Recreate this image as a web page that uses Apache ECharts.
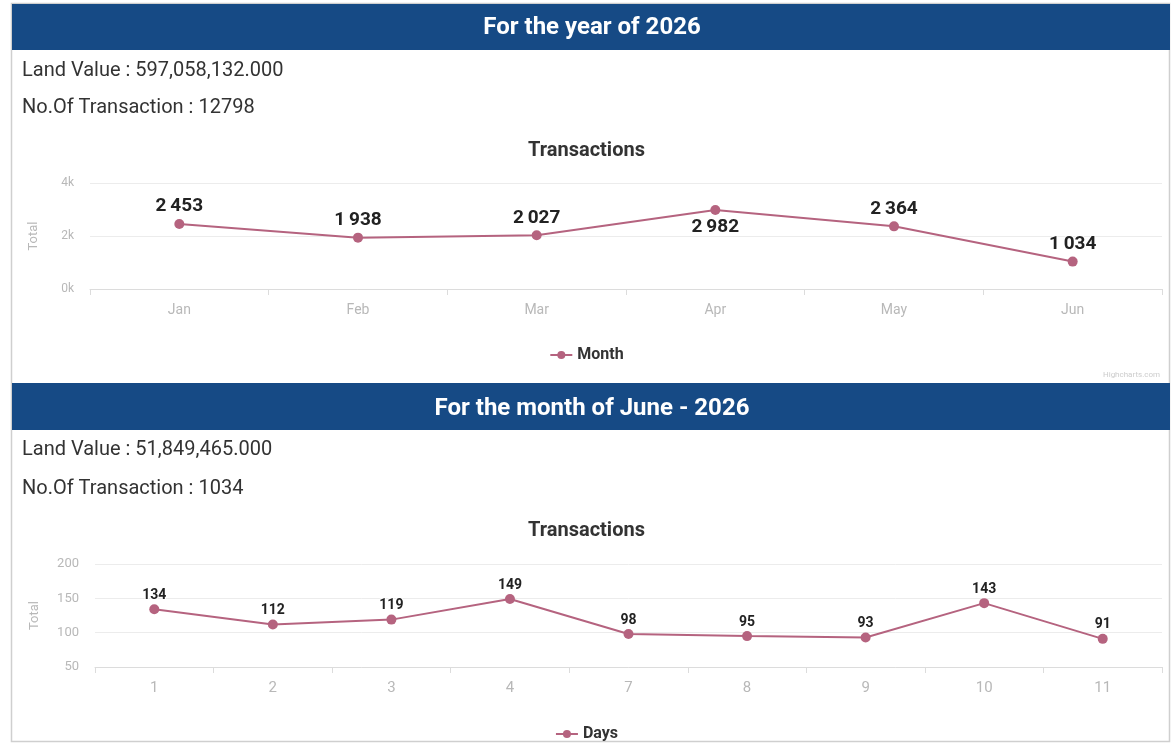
<!DOCTYPE html>
<html>
<head>
<meta charset="utf-8">
<script src="https://cdn.jsdelivr.net/npm/echarts@6/dist/echarts.min.js"></script>
<style>
html,body{margin:0;padding:0;background:#fff;}
#c{width:1173px;height:747px;}
</style>
</head>
<body>
<div id="c"></div>
<script>
// ---- data ----
const yearTitle = 'For the year of 2026';
const yearLandValue = 'Land Value : 597,058,132.000';
const yearTransactions = 'No.Of Transaction : 12798';
const months = ['Jan', 'Feb', 'Mar', 'Apr', 'May', 'Jun'];
const monthValues = [2453, 1938, 2027, 2982, 2364, 1034];
const monthLabelBelow = [false, false, false, true, false, false];
const monthTicks = [0, 2000, 4000];

const monthTitle = 'For the month of June - 2026';
const monthLandValue = 'Land Value : 51,849,465.000';
const monthTransactions = 'No.Of Transaction : 1034';
const days = ['1', '2', '3', '4', '7', '8', '9', '10', '11'];
const dayValues = [134, 112, 119, 149, 98, 95, 93, 143, 91];
const dayTicks = [50, 100, 150, 200];

const chartTitle = 'Transactions';
const yName = 'Total';
const series1Name = 'Month';
const series2Name = 'Days';

// ---- style ----
const FONT = 'Roboto, "Noto Sans", sans-serif';
const BLUE = '#164a85';
const LINE = '#b5637f';
const AXIS_TXT = '#b8b8b8';
const GRID_LINE = '#ececec';

function fmtSpace(v){
  return String(v).replace(/\B(?=(\d{3})+(?!\d))/g, '\u2009');
}

const chart = echarts.init(document.getElementById('c'), null, {renderer:'canvas'});

function xAxisCfg(data, gridIndex, fs){
  return {
    type:'category', data:data, gridIndex:gridIndex, boundaryGap:true,
    axisLine:{lineStyle:{color:'#dcdcdc', width:1}},
    axisTick:{show:true, lineStyle:{color:'#dcdcdc'}, length:6, alignWithLabel:false},
    axisLabel:{color:AXIS_TXT, fontSize:fs, fontFamily:FONT, margin:14}
  };
}
function yAxisCfg(gridIndex, min, max, interval, fmt, nameGap, fs){
  return {
    type:'value', gridIndex:gridIndex, min:min, max:max, interval:interval,
    name:yName, nameLocation:'middle', nameGap:nameGap, nameRotate:90,
    nameTextStyle:{color:AXIS_TXT, fontSize:13, fontFamily:FONT},
    axisLine:{show:false}, axisTick:{show:false},
    axisLabel:{color:AXIS_TXT, fontSize:fs, fontFamily:FONT, margin:16, formatter:fmt},
    splitLine:{lineStyle:{color:GRID_LINE, width:1}}
  };
}

const option = {
  animation:false,
  backgroundColor:'#ffffff',
  textStyle:{fontFamily:FONT},
  graphic:[
    {type:'rect', shape:{x:11.5, y:3.5, width:1158, height:738}, style:{fill:'none', stroke:'#cfcfcf', lineWidth:1.5}, z:0},
    {type:'rect', shape:{x:12, y:4, width:1158, height:46}, style:{fill:BLUE}, z:1},
    {type:'text', x:592, y:28, style:{text:yearTitle, fill:'#fff', font:'bold 24px ' + FONT, textAlign:'center', textVerticalAlign:'middle'}, z:2},
    {type:'text', x:22, y:71, style:{text:yearLandValue, fill:'#333', font:'20px ' + FONT, textVerticalAlign:'middle'}, z:2},
    {type:'text', x:22, y:108, style:{text:yearTransactions, fill:'#333', font:'20px ' + FONT, textVerticalAlign:'middle'}, z:2},
    {type:'text', x:1160, y:375, style:{text:'Highcharts.com', fill:'#cccccc', font:'8px ' + FONT, textAlign:'right', textVerticalAlign:'middle'}, z:2},
    {type:'rect', shape:{x:12, y:383, width:1158, height:47}, style:{fill:BLUE}, z:1},
    {type:'text', x:592, y:409, style:{text:monthTitle, fill:'#fff', font:'bold 24px ' + FONT, textAlign:'center', textVerticalAlign:'middle'}, z:2},
    {type:'text', x:22, y:450, style:{text:monthLandValue, fill:'#333', font:'20px ' + FONT, textVerticalAlign:'middle'}, z:2},
    {type:'text', x:22, y:489, style:{text:monthTransactions, fill:'#333', font:'20px ' + FONT, textVerticalAlign:'middle'}, z:2}
  ],
  title:[
    {text:chartTitle, left:'center', top:136, textStyle:{color:'#333', fontSize:20, fontWeight:'bold', fontFamily:FONT}},
    {text:chartTitle, left:'center', top:516, textStyle:{color:'#333', fontSize:20, fontWeight:'bold', fontFamily:FONT}}
  ],
  legend:[
    {data:[series1Name], left:'center', top:342, itemWidth:22, itemHeight:10, textStyle:{color:'#333', fontSize:16, fontWeight:'bold', fontFamily:FONT}},
    {data:[series2Name], left:'center', top:721, itemWidth:22, itemHeight:10, textStyle:{color:'#333', fontSize:16, fontWeight:'bold', fontFamily:FONT}}
  ],
  grid:[
    {left:90, right:11, top:183, height:106},
    {left:95, right:11, top:564, height:103}
  ],
  xAxis:[xAxisCfg(months,0,14), xAxisCfg(days,1,15)],
  yAxis:[
    yAxisCfg(0, monthTicks[0], monthTicks[monthTicks.length-1], monthTicks[1]-monthTicks[0], function(v){return (v/1000)+'k';}, 50, 12),
    yAxisCfg(1, dayTicks[0], dayTicks[dayTicks.length-1], dayTicks[1]-dayTicks[0], '{value}', 54, 13)
  ],
  series:[
    {
      name:series1Name, type:'line', xAxisIndex:0, yAxisIndex:0,
      data:monthValues.map(function(v,i){
        return {value:v, label:{position: monthLabelBelow[i] ? 'bottom' : 'top'}};
      }),
      symbol:'circle', symbolSize:10,
      lineStyle:{color:LINE, width:2}, itemStyle:{color:LINE},
      label:{show:true, distance:3, color:'#222', fontSize:19, fontWeight:'bold', fontFamily:FONT,
        textBorderColor:'#fff', textBorderWidth:2,
        formatter:function(p){return fmtSpace(p.value);}}
    },
    {
      name:series2Name, type:'line', xAxisIndex:1, yAxisIndex:1,
      data:dayValues,
      symbol:'circle', symbolSize:10,
      lineStyle:{color:LINE, width:2}, itemStyle:{color:LINE},
      label:{show:true, position:'top', distance:2, color:'#222', fontSize:14, fontWeight:'bold', fontFamily:FONT,
        textBorderColor:'#fff', textBorderWidth:2}
    }
  ]
};
chart.setOption(option);
</script>
</body>
</html>
